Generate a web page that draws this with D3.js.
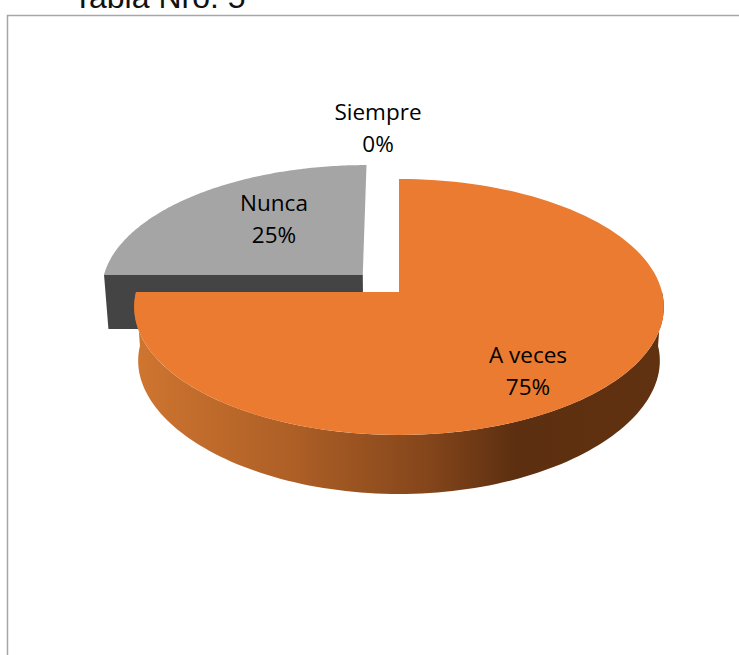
<!DOCTYPE html>
<html><head><meta charset="utf-8">
<script src="https://cdn.jsdelivr.net/npm/d3@7/dist/d3.min.js"></script>
<style>html,body{margin:0;padding:0;background:#fff;overflow:hidden}svg{display:block}</style>
</head><body><svg id="c" width="739" height="655"></svg>
<script>
const categories = ["Siempre", "A veces", "Nunca"];
const values = [0, 75, 25];
const percentLabels = ["0%", "75%", "25%"];
const explode = [0, 0, 0.198];

const svg = d3.select("#c");
const tilt = 0.117, tiltBottomY = 0.164, depthScale = 0.985;
const sx = d3.scaleLinear().domain([-1, 1]).range([399 - 263, 399 + 263]);
const sy = d3.scaleLinear().domain([-1, 1]).range([292 + 126.2, 292 - 126.2]);
const sxB = d3.scaleLinear().domain([-1, 1]).range([399 - 263 * depthScale, 399 + 263 * depthScale]);
const syB = d3.scaleLinear().domain([-1, 1]).range([346 + 123.7, 346 - 123.7]);

function proj(u, v, bottom) {
  const w = 1 + tilt * v;
  return bottom ? [sxB(u / w), syB(v / (1 + tiltBottomY * v))] : [sx(u / w), sy(v / w)];
}
const pt = (a, r, ex, mid, bottom) =>
  proj(r * Math.sin(a) + ex * Math.sin(mid), r * Math.cos(a) + ex * Math.cos(mid), bottom);
const line = d3.line();
const steps = (a0, a1) => d3.range(0, 121).map(i => a0 + (a1 - a0) * i / 120);

const arcs = d3.pie().sort(null).value(d => d)(values);

const defs = svg.append("defs");
const grad = defs.append("linearGradient").attr("id", "side")
  .attr("gradientUnits", "userSpaceOnUse").attr("x1", 135).attr("x2", 664).attr("y1", 0).attr("y2", 0);
[[0, "#cf7530"], [0.3, "#ad5f26"], [0.55, "#85461b"], [0.72, "#5c2f10"], [1, "#613210"]]
  .forEach(([o, c]) => grad.append("stop").attr("offset", o).attr("stop-color", c));

// frame
svg.append("path").attr("d", "M7.5,655V15.5H739").attr("fill", "none").attr("stroke", "#a6a6a6").attr("stroke-width", 1.5);

// title
svg.append("text").attr("x", 73).attr("y", 8).attr("font-family", "Liberation Sans")
  .attr("font-size", 32).attr("fill", "#111").text("Tabla Nro. 5");

// Nunca: exploded slice with front wall and top
{
  const d = arcs[2], mid = (d.startAngle + d.endAngle) / 2, ex = explode[2];
  const a0 = d.startAngle, a1 = d.endAngle;
  const wall = [pt(0, 0, ex, mid), pt(a0, 1, ex, mid), pt(a0, 1, ex, mid, true), pt(0, 0, ex, mid, true)];
  svg.append("path").attr("d", line(wall) + "Z").attr("fill", "#444444");
  const top = [pt(0, 0, ex, mid), ...steps(a0, a1).map(a => pt(a, 1, ex, mid))];
  svg.append("path").attr("d", line(top) + "Z").attr("fill", "#a5a5a5");
}
// A veces: curved side and top
{
  const d = arcs[1];
  const sweep = steps(Math.PI / 2, d.endAngle);
  const side = [...sweep.map(a => pt(a, 1, 0, 0)), ...sweep.slice().reverse().map(a => pt(a, 1, 0, 0, true))];
  svg.append("path").attr("d", line(side) + "Z").attr("fill", "url(#side)");
  const top = [pt(0, 0, 0, 0), ...steps(d.startAngle, d.endAngle).map(a => pt(a, 1, 0, 0))];
  svg.append("path").attr("d", line(top) + "Z").attr("fill", "#ea7b30");
}
// labels
const labelPos = [[378, 120], [528, 363], [274, 211]];
categories.forEach((c, i) => {
  const g = svg.append("text").attr("text-anchor", "middle").attr("font-family", "Open Sans")
    .attr("font-size", 22.5).attr("fill", "#000");
  g.append("tspan").attr("x", labelPos[i][0]).attr("y", labelPos[i][1]).text(c);
  g.append("tspan").attr("x", labelPos[i][0]).attr("y", labelPos[i][1] + 32).text(percentLabels[i]);
});
</script></body></html>
